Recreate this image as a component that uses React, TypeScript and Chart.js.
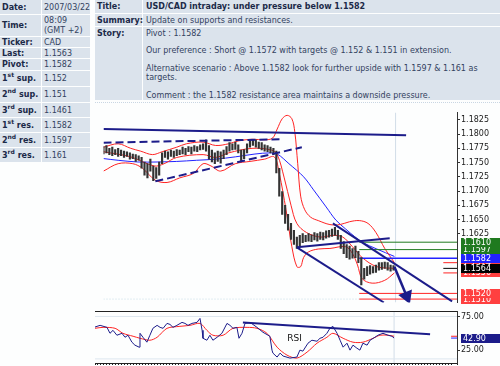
import React, { useEffect, useRef } from 'react';
import { Chart, registerables } from 'chart.js';
Chart.register(...registerables);

const FONT = '"DejaVu Sans", Verdana, sans-serif';
Chart.defaults.font.family = FONT;

// ---------- header content ----------
const infoLabels = ['Date:', 'Time:', 'Ticker:', 'Last:', 'Pivot:', '1st sup.', '2nd sup.', '3rd sup.', '1st res.', '2nd res.', '3rd res.'];
const infoValues = ['2007/03/22', '08:09|(GMT +2)', 'CAD', '1.1563', '1.1582', '1.152', '1.151', '1.1461', '1.1582', '1.1597', '1.161'];
const infoRowTops = [0, 15, 37, 48, 59, 71, 87, 103, 118, 133, 148];
const infoRowHeights = [14, 21, 10, 10, 11, 15, 15, 14, 14, 14, 14];

const titleText = 'USD/CAD intraday: under pressure below 1.1582';
const summaryText = 'Update on supports and resistances.';
const storyLines = [
  'Pivot : 1.1582',
  '',
  'Our preference : Short @ 1.1572 with targets @ 1.152 & 1.151 in extension.',
  '',
  'Alternative scenario : Above 1.1582 look for further upside with 1.1597 & 1.161 as',
  'targets.',
  '',
  'Comment : the 1.1582 resistance area maintains a downside pressure.',
];

// ---------- price data (bar index, price) ----------
const highs = [
  1.1778, 1.1780, 1.1775, 1.1777, 1.1773, 1.1775, 1.1772, 1.1770, 1.1769, 1.1767,
  1.1765, 1.1764, 1.1762, 1.1759, 1.1751, 1.1748, 1.1756, 1.1744, 1.1741, 1.1751,
  1.1767, 1.1770, 1.1769, 1.1772, 1.1770, 1.1773, 1.1772, 1.1777, 1.1775, 1.1778,
  1.1777, 1.1780, 1.1778, 1.1781, 1.1783, 1.1790, 1.1780, 1.1772, 1.1767, 1.1770,
  1.1769, 1.1772, 1.1778, 1.1785, 1.1783, 1.1786, 1.1781, 1.1772, 1.1773, 1.1783,
  1.1790, 1.1791, 1.1790, 1.1786, 1.1785, 1.1781, 1.1780, 1.1777, 1.1775, 1.1770,
  1.1740, 1.1699, 1.1675, 1.1659, 1.1643, 1.1631, 1.1619, 1.1622, 1.1625, 1.1622,
  1.1625, 1.1623, 1.1627, 1.1625, 1.1628, 1.1627, 1.1630, 1.1631, 1.1633, 1.1636,
  1.1631, 1.1622, 1.1611, 1.1606, 1.1603, 1.1599, 1.1603, 1.1594, 1.1583, 1.1564,
  1.1567, 1.1569, 1.1567, 1.1570, 1.1574, 1.1574, 1.1575, 1.1574, 1.1570, 1.1569,
];
const lows = [
  1.1765, 1.1767, 1.1764, 1.1762, 1.1764, 1.1761, 1.1762, 1.1759, 1.1761, 1.1756,
  1.1757, 1.1752, 1.1754, 1.1740, 1.1728, 1.1723, 1.1735, 1.1718, 1.1722, 1.1728,
  1.1748, 1.1759, 1.1756, 1.1761, 1.1759, 1.1762, 1.1764, 1.1765, 1.1764, 1.1769,
  1.1765, 1.1770, 1.1769, 1.1772, 1.1773, 1.1770, 1.1756, 1.1751, 1.1748, 1.1752,
  1.1749, 1.1757, 1.1764, 1.1770, 1.1772, 1.1773, 1.1767, 1.1752, 1.1757, 1.1767,
  1.1777, 1.1780, 1.1777, 1.1775, 1.1772, 1.1770, 1.1769, 1.1767, 1.1764, 1.1732,
  1.1691, 1.1659, 1.1643, 1.1631, 1.1615, 1.1606, 1.1599, 1.1604, 1.1609, 1.1611,
  1.1612, 1.1611, 1.1614, 1.1612, 1.1615, 1.1614, 1.1617, 1.1619, 1.1620, 1.1622,
  1.1615, 1.1599, 1.1590, 1.1583, 1.1580, 1.1582, 1.1583, 1.1574, 1.1535, 1.1545,
  1.1551, 1.1554, 1.1556, 1.1557, 1.1561, 1.1562, 1.1564, 1.1561, 1.1559, 1.1561,
];

const bandUpper: [number, number][] = [
  [0, 1.1777], [5, 1.1783], [9.3, 1.1775], [12.7, 1.1770], [16.7, 1.1764], [20, 1.1769],
  [25, 1.1777], [28.3, 1.1783], [34, 1.1786], [38.3, 1.1780], [42.7, 1.1783], [46, 1.1788],
  [50.7, 1.1791], [55, 1.1790], [57.7, 1.1793], [59.3, 1.1809], [61, 1.1827], [62.7, 1.1833],
  [64.3, 1.1827], [65.3, 1.1804], [66.3, 1.1748], [67.3, 1.1691], [68.7, 1.1667], [70.7, 1.1654],
  [73.3, 1.1648], [77.3, 1.1641], [80.7, 1.1641], [84, 1.1646], [87.3, 1.1648], [90.3, 1.1643],
  [93, 1.1627], [96, 1.1599], [99.3, 1.1574],
];
const bandMiddle: [number, number][] = [
  [0, 1.1769], [9.3, 1.1760], [17.3, 1.1744], [20.7, 1.1748], [25, 1.1759], [34, 1.1764],
  [38.3, 1.1759], [42.7, 1.1767], [50.7, 1.1775], [57.3, 1.1772], [59.3, 1.1764], [61.7, 1.1723],
  [64, 1.1675], [66, 1.1643], [69.3, 1.1627], [74, 1.1619], [78.3, 1.1622], [81.7, 1.1619],
  [85, 1.1602], [88.3, 1.1583], [93.3, 1.1567], [99.3, 1.1564],
];
const bandLower: [number, number][] = [
  [0, 1.1735], [5, 1.1748], [10, 1.1748], [13.3, 1.1740], [17.7, 1.1719], [21.7, 1.1715],
  [26, 1.1723], [30.7, 1.1731], [34, 1.1748], [36.7, 1.1744], [40, 1.1735], [45, 1.1748],
  [50, 1.1752], [55, 1.1756], [58.3, 1.1760], [60, 1.1731], [62.3, 1.1667], [64.3, 1.1602],
  [66, 1.1567], [67.3, 1.1567], [68.3, 1.1583], [70, 1.1593], [73.3, 1.1598], [77.3, 1.1599],
  [82.7, 1.1602], [85, 1.1590], [86.7, 1.1570], [88.3, 1.1546], [91.7, 1.1538], [96, 1.1543],
  [99.3, 1.1556],
];
const movingAverage: [number, number][] = [
  [0, 1.1757], [5, 1.1754], [11.7, 1.1751], [18.3, 1.1751], [25, 1.1752], [31.7, 1.1754],
  [38.3, 1.1756], [45, 1.1760], [51.7, 1.1765], [56.7, 1.1767], [59.3, 1.1765], [63.3, 1.1748],
  [68.3, 1.1725], [71.7, 1.1702], [76, 1.1672], [79.3, 1.1649], [82.7, 1.1633], [85.7, 1.1620],
  [88.3, 1.1610], [93.3, 1.1598], [99.3, 1.1585],
];

// trend lines (bar index, price)
const topLine: [number, number][] = [[0, 1.1809], [103.3, 1.1798]];
const dashedTop: [number, number][] = [[0, 1.1785], [60.7, 1.1791]];
const dashedSupport: [number, number][] = [[17.7, 1.1717], [67.7, 1.1777]];
const channelUpper: [number, number][] = [[78.3, 1.1643], [119, 1.1506]];
const channelLower: [number, number][] = [[66, 1.1601], [95.7, 1.1504]];
const risingSupport: [number, number][] = [[66, 1.1601], [97.7, 1.1617]];
const arrowPath: [number, number][] = [[99.3, 1.1567], [103.5, 1.1515]];

// horizontal levels
const resistanceLevels = [1.1610, 1.1597];
const pivotLevel = 1.1582;
const supportLevels = [1.1520, 1.1510];
const levelsStart = 87.3;
const lastClose = 1.1564;
const bandUpperLast = 1.1574;
const bandLowerLast = 1.1556;
const nowIndex = 99.7;

const priceTicks = [1.1625, 1.1650, 1.1675, 1.1700, 1.1725, 1.1750, 1.1775, 1.1800, 1.1825];
const priceMin = 1.1504;
const priceMax = 1.1838;
const xMax = 120.67;

// ---------- RSI ----------
const rsiLine: [number, number][] = [
  [0, 59.3], [1.7, 61.8], [4, 58.8], [5, 50.0], [6, 54.4], [7.3, 47.1], [9, 50.0], [10, 44.1],
  [11, 47.1], [12.3, 36.8], [13.3, 32.4], [14.7, 29.4], [15, 50.0], [16, 44.1], [17.3, 36.8],
  [18.3, 47.1], [19.3, 57.4], [20.7, 61.8], [21.7, 58.8], [22.7, 57.4], [24, 64.7], [25, 63.2],
  [26, 58.8], [27.3, 61.8], [29, 66.2], [30, 64.7], [31, 61.8], [32.3, 64.7], [34, 66.2],
  [35, 72.1], [35.7, 54.4], [36, 42.6], [37.3, 39.7], [38.3, 47.1], [39.3, 39.7], [40.7, 44.1],
  [42.3, 50.0], [44, 64.7], [45, 61.8], [46, 57.4], [47.3, 58.8], [48, 42.6], [49, 50.0],
  [50, 64.7], [51.7, 66.2], [54, 58.8], [56, 51.5], [58.3, 45.6], [59, 25.0], [59.3, 20.6],
  [60.7, 14.7], [61.7, 20.6], [62.7, 16.2], [65, 13.2], [67.3, 14.7], [68.3, 25.0], [69.3, 23.5],
  [71, 35.3], [72.3, 39.7], [74, 38.2], [75, 42.6], [76, 44.1], [77.3, 50.0], [78.3, 57.4],
  [79.3, 60.3], [80.7, 50.0], [81.7, 39.7], [82.7, 29.4], [84, 35.3], [85, 25.0], [86, 32.4],
  [87.3, 27.9], [88.3, 25.0], [89.3, 35.3], [90.7, 32.4], [91.7, 39.7], [93.3, 44.1], [94.3, 47.1],
  [96, 50.0], [97.7, 47.1], [99, 45.6], [99.7, 42.9],
];
const rsiSignal: [number, number][] = [
  [0, 57.4], [2.7, 58.8], [6.7, 57.4], [9.3, 50.0], [12.7, 45.6], [15, 42.6], [18.3, 39.7],
  [20.7, 44.1], [24, 57.4], [28.3, 60.3], [31.7, 61.8], [35, 64.7], [37.3, 54.4], [39.3, 47.1],
  [42.7, 47.1], [46, 57.4], [50.7, 58.8], [54, 57.4], [57.3, 50.0], [60.7, 29.4], [64, 17.6],
  [67.3, 13.2], [70.7, 22.1], [74, 35.3], [77.3, 44.1], [79.3, 50.0], [82.7, 42.6], [86, 36.8],
  [89.3, 36.8], [92.7, 42.6], [95, 47.1], [97.7, 47.1], [99.7, 45.6],
];
const rsiTrend: [number, number][] = [[49.3, 66.2], [111.7, 48.5]];
const rsiLast = 42.9;
const rsiGuides = [75, 12];
const rsiTicks = [25, 75];
const rsiMin = 5.9;
const rsiMax = 83.1;

// ---------- colours ----------
const NAVY = '#1c1c8a';
const RED = '#ff2424';
const GREEN = '#1f7a1f';
const BLUE = '#2222ff';
const LABEL_RED = '#ff4040';

const pts = (a: [number, number][]) => a.map(([x, y]) => ({ x, y }));
const hline = (v: number, from: number, to: number) => [{ x: from, y: v }, { x: to, y: v }];

function line(data: any[], color: string, width: number, order: number, extra: any = {}) {
  return {
    type: 'line' as const,
    data,
    borderColor: color,
    borderWidth: width,
    pointRadius: 0,
    fill: false,
    order,
    ...extra,
  };
}

function drawBox(ctx: CanvasRenderingContext2D, x: number, y: number, w: number, text: string, bg: string) {
  ctx.fillStyle = bg;
  ctx.fillRect(x, Math.round(y - 4.5), w, 9);
  ctx.fillStyle = '#ffffff';
  ctx.font = '8px ' + FONT;
  ctx.textBaseline = 'middle';
  ctx.textAlign = 'left';
  ctx.fillText(text, x + 2, y + 0.5);
}

const priceBoxes = {
  id: 'priceBoxes',
  afterDraw(chart: any) {
    const { ctx, chartArea, scales } = chart;
    const y = scales.y;
    const x0 = chartArea.right + 4;
    const w = chart.width - x0;
    const boxes: [number, string][] = [
      [supportLevels[1], LABEL_RED],
      [supportLevels[0], LABEL_RED],
      [bandUpperLast, LABEL_RED],
      [bandLowerLast, LABEL_RED],
      [resistanceLevels[1], GREEN],
      [resistanceLevels[0], GREEN],
      [pivotLevel, BLUE],
      [lastClose, '#000000'],
    ];
    ctx.save();
    boxes.forEach(([v, c]) => drawBox(ctx, x0, y.getPixelForValue(v), w, v.toFixed(4), c));
    ctx.restore();
  },
};

const rsiDecor = {
  id: 'rsiDecor',
  afterDraw(chart: any) {
    const { ctx, chartArea, scales } = chart;
    const y = scales.y;
    const x = scales.x;
    ctx.save();
    ctx.strokeStyle = '#222';
    ctx.lineWidth = 1;
    ctx.beginPath();
    ctx.moveTo(chartArea.left, chartArea.top + 0.5);
    ctx.lineTo(chartArea.right, chartArea.top + 0.5);
    ctx.stroke();
    const x0 = chartArea.right + 4;
    drawBox(ctx, x0, y.getPixelForValue(rsiLast), chart.width - x0, rsiLast.toFixed(2), NAVY);
    ctx.fillStyle = '#111';
    ctx.font = '9px ' + FONT;
    ctx.textAlign = 'center';
    ctx.textBaseline = 'middle';
    ctx.fillText('RSI', x.getPixelForValue(66.5), y.getPixelForValue(42));
    ctx.restore();
  },
};

function PriceChart() {
  const ref = useRef<HTMLCanvasElement>(null);
  useEffect(() => {
    const candleData = highs.map((h, i) => ({ x: i, y: [lows[i], h] }));
    const chart = new Chart(ref.current!, {
      type: 'line',
      data: {
        datasets: [
          line(pts(arrowPath), NAVY, 2.5, 0, {
            pointRadius: [0, 6],
            pointStyle: 'triangle',
            pointRotation: 158,
            pointBackgroundColor: NAVY,
            pointBorderColor: NAVY,
          }),
          line(pts(topLine), NAVY, 2, 1),
          line(pts(dashedTop), NAVY, 2, 1, { borderDash: [8, 4] }),
          line(pts(dashedSupport), NAVY, 2, 1, { borderDash: [8, 4] }),
          line(pts(channelUpper), NAVY, 2, 1),
          line(pts(channelLower), NAVY, 2, 1),
          line(pts(risingSupport), NAVY, 2, 1),
          {
            type: 'bar' as const,
            data: candleData as any,
            backgroundColor: '#333333',
            barThickness: 1.5,
            order: 2,
          },
          line(hline(lastClose, 116, xMax), '#000', 1, 3),
          line(hline(resistanceLevels[0], levelsStart, xMax), GREEN, 1, 3),
          line(hline(resistanceLevels[1], levelsStart, xMax), GREEN, 1, 3),
          line(hline(pivotLevel, levelsStart, xMax), BLUE, 1.5, 3),
          line(hline(supportLevels[0], levelsStart, xMax), RED, 1, 3),
          line(hline(supportLevels[1], levelsStart, xMax), RED, 1, 3),
          line(hline(supportLevels[1], 0, levelsStart), '#c6dbe8', 1, 6, { borderDash: [1, 2] }),
          line(hline(bandUpperLast, 116, xMax), RED, 1, 3),
          line(hline(bandLowerLast, 116, xMax), RED, 1, 3),
          line(pts(bandUpper), RED, 1, 4, { tension: 0.35 }),
          line(pts(bandMiddle), RED, 1, 4, { tension: 0.35 }),
          line(pts(bandLower), RED, 1, 4, { tension: 0.35 }),
          line(pts(movingAverage), BLUE, 1, 4, { tension: 0.35 }),
          line([{ x: nowIndex, y: priceMin }, { x: nowIndex, y: priceMax }], '#d2dde8', 1, 7),
        ],
      },
      options: {
        responsive: false,
        animation: false,
        events: [],
        layout: { padding: 0 },
        plugins: { legend: { display: false }, tooltip: { enabled: false } },
        scales: {
          x: { type: 'linear', min: 0, max: xMax, display: false, offset: false, grid: { offset: false } },
          y: {
            type: 'linear',
            position: 'right',
            min: priceMin,
            max: priceMax,
            beginAtZero: false,
            afterBuildTicks: (s: any) => { s.ticks = priceTicks.map((v) => ({ value: v })); },
            afterFit: (s: any) => { s.width = 43; s.paddingTop = 0; s.paddingBottom = 0; },
            grid: { drawOnChartArea: false, tickLength: 3, color: '#333' },
            border: { display: true, color: '#333' },
            ticks: { font: { size: 8, family: FONT }, color: '#1a1a1a', padding: 1, callback: (v: any) => Number(v).toFixed(4) },
          },
        },
      } as any,
      plugins: [priceBoxes],
    });
    return () => chart.destroy();
  }, []);
  return <canvas ref={ref} width={405} height={207} style={{ position: 'absolute', left: 95, top: 104, width: 405, height: 207 }} />;
}

function RsiChart() {
  const ref = useRef<HTMLCanvasElement>(null);
  useEffect(() => {
    const chart = new Chart(ref.current!, {
      type: 'line',
      data: {
        datasets: [
          line(pts(rsiTrend), NAVY, 2, 0),
          line(pts(rsiLine), NAVY, 1, 1),
          line(pts(rsiSignal), RED, 1, 2, { tension: 0.3 }),
          line(hline(rsiLast, 118.7, xMax), BLUE, 1, 3),
          line(hline(rsiSignal[rsiSignal.length - 1][1], 118.7, xMax), RED, 1, 3),
          line(hline(rsiGuides[0], 0, xMax), '#dde6ef', 1, 5),
          line(hline(rsiGuides[1], 0, xMax), '#dde6ef', 1, 5),
          line([{ x: nowIndex, y: rsiMin }, { x: nowIndex, y: rsiMax }], '#d2dde8', 1, 6),
        ],
      },
      options: {
        responsive: false,
        animation: false,
        events: [],
        layout: { padding: 0 },
        plugins: { legend: { display: false }, tooltip: { enabled: false } },
        scales: {
          x: {
            type: 'linear',
            min: 0,
            max: xMax,
            position: 'bottom',
            ticks: { display: false, stepSize: 1 },
            grid: { drawOnChartArea: false, tickLength: 2, color: '#222' },
            border: { display: true, color: '#222' },
            afterFit: (s: any) => { s.height = 3; s.paddingLeft = 0; s.paddingRight = 0; },
          },
          y: {
            type: 'linear',
            position: 'right',
            min: rsiMin,
            max: rsiMax,
            afterBuildTicks: (s: any) => { s.ticks = rsiTicks.map((v) => ({ value: v })); },
            afterFit: (s: any) => { s.width = 43; s.paddingTop = 0; s.paddingBottom = 0; },
            grid: { drawOnChartArea: false, tickLength: 3, color: '#333' },
            border: { display: true, color: '#333' },
            ticks: { font: { size: 8, family: FONT }, color: '#1a1a1a', padding: 1, callback: (v: any) => Number(v).toFixed(2) },
          },
        },
      } as any,
      plugins: [rsiDecor],
    });
    return () => chart.destroy();
  }, []);
  return <canvas ref={ref} width={405} height={55} style={{ position: 'absolute', left: 95, top: 311, width: 405, height: 55 }} />;
}

const CELL = '#dbe3ec';
const LABEL_COLOR = '#1b2a48';
const VALUE_COLOR = '#33425f';

function renderLabel(text: string) {
  const m = text.match(/^(\d)(st|nd|rd) (.*)$/);
  if (!m) return text;
  return (
    <>
      {m[1]}
      <sup style={{ fontSize: 6, lineHeight: 0 }}>{m[2]}</sup> {m[3]}
    </>
  );
}

export default function App() {
  const cellBase: React.CSSProperties = {
    position: 'absolute',
    background: CELL,
    display: 'flex',
    alignItems: 'center',
    whiteSpace: 'nowrap',
    overflow: 'visible',
    boxSizing: 'border-box',
  };
  return (
    <div style={{ position: 'relative', width: 500, height: 366, overflow: 'hidden', background: '#fdfefe', fontFamily: FONT, fontSize: 8 }}>
      <style>{'body{margin:0}'}</style>
      {infoLabels.map((lab, i) => (
        <React.Fragment key={i}>
          <div style={{ ...cellBase, left: 0, top: infoRowTops[i], width: 41, height: infoRowHeights[i], paddingLeft: 2, fontWeight: 'bold', color: LABEL_COLOR }}>
            <span>{renderLabel(lab)}</span>
          </div>
          <div style={{ ...cellBase, left: 42, top: infoRowTops[i], width: 48, height: infoRowHeights[i], paddingLeft: 2, color: VALUE_COLOR }}>
            {infoValues[i].includes('|') ? (
              <div style={{ lineHeight: '10px' }}>
                {infoValues[i].split('|').map((t, k) => <div key={k}>{t}</div>)}
              </div>
            ) : (
              <span>{infoValues[i]}</span>
            )}
          </div>
        </React.Fragment>
      ))}

      {/* right block */}
      <div style={{ ...cellBase, left: 95, top: 0, width: 47, height: 13, paddingLeft: 2, fontWeight: 'bold', color: LABEL_COLOR }}>Title:</div>
      <div style={{ ...cellBase, left: 143, top: 0, width: 357, height: 13, paddingLeft: 3, fontWeight: 'bold', color: LABEL_COLOR }}>{titleText}</div>
      <div style={{ ...cellBase, left: 95, top: 14, width: 47, height: 12, paddingLeft: 2, fontWeight: 'bold', color: LABEL_COLOR }}>Summary:</div>
      <div style={{ ...cellBase, left: 143, top: 14, width: 357, height: 12, paddingLeft: 3, color: VALUE_COLOR }}>{summaryText}</div>
      <div style={{ ...cellBase, left: 95, top: 27, width: 47, height: 73, paddingLeft: 2, fontWeight: 'bold', color: LABEL_COLOR, alignItems: 'flex-start', paddingTop: 1.5, lineHeight: '9px' }}>Story:</div>
      <div style={{ ...cellBase, left: 143, top: 27, width: 357, height: 73, paddingLeft: 3, color: VALUE_COLOR, alignItems: 'flex-start', paddingTop: 1.5, lineHeight: '9px', flexDirection: 'column' }}>
        {storyLines.map((t, i) => (
          <div key={i} style={{ height: 9 }}>{t}</div>
        ))}
      </div>
      <div style={{ position: 'absolute', left: 95, top: 102, width: 405, borderTop: '1px dotted #c9d6e3' }} />

      <PriceChart />
      <RsiChart />
    </div>
  );
}
